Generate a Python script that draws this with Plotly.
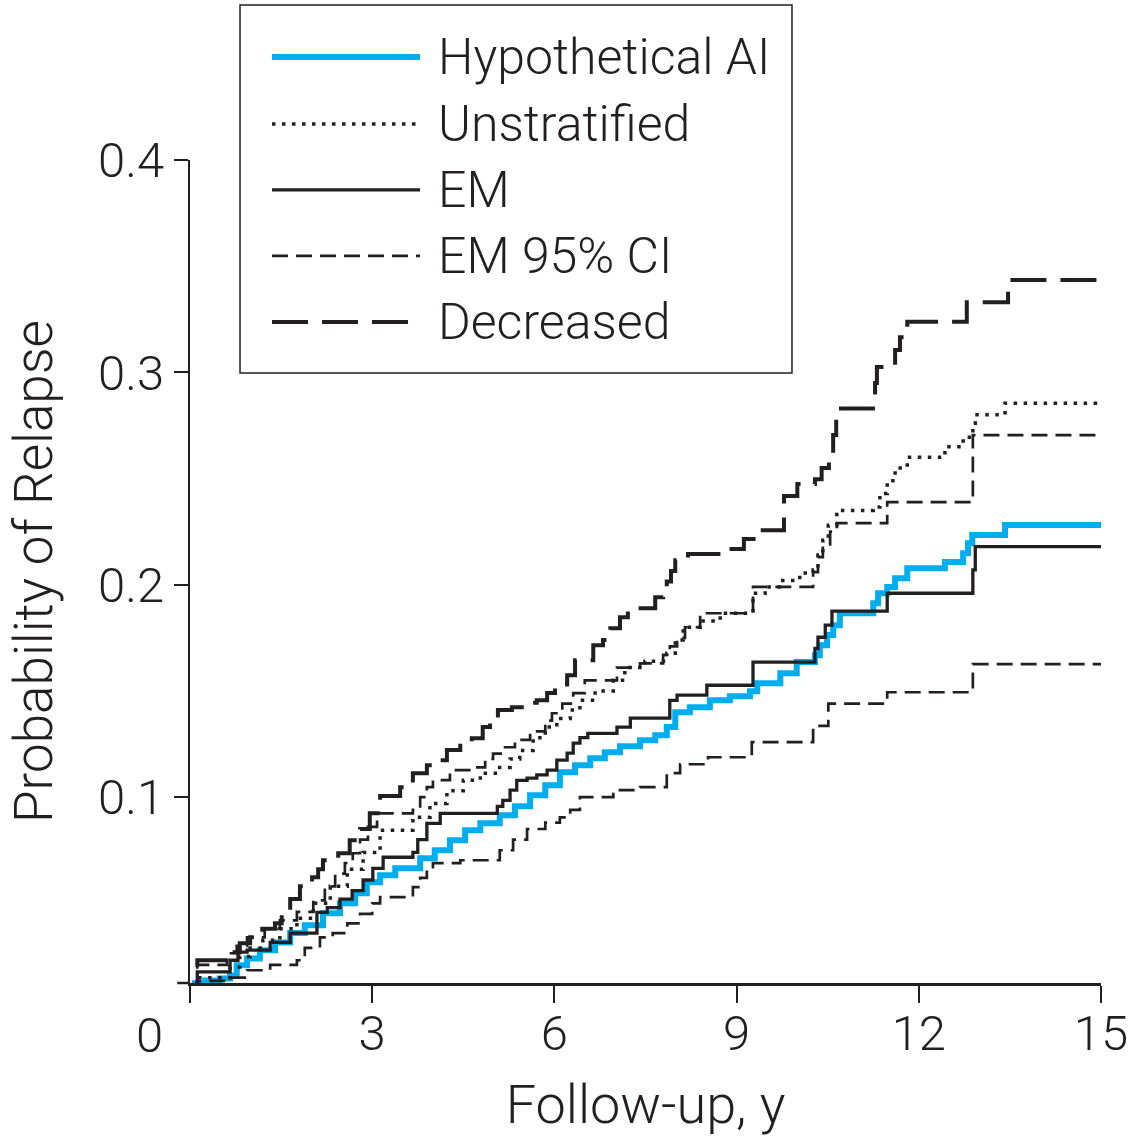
import plotly.graph_objects as go

# ---------------- data (years, cumulative probability of relapse) ----------------
ai_t = [0, 0.08, 0.25, 0.49, 0.66, 0.77, 0.94, 1.15, 1.40, 1.65, 1.89, 2.19, 2.47, 2.72, 2.91,
        3.13, 3.38, 3.79, 4.03, 4.28, 4.53, 4.78, 5.10, 5.35, 5.60, 5.85, 6.09, 6.34, 6.59,
        6.83, 7.08, 7.41, 7.66, 7.85, 7.99, 8.23, 8.56, 8.89, 9.22, 9.34, 9.72, 9.99, 10.29,
        10.37, 10.49, 10.59, 10.70, 11.25, 11.33, 11.48, 11.61, 11.81, 12.43, 12.73, 12.81,
        12.88, 13.42, 15.0]
ai_v = [0, 0.0124, 0.0137, 0.0146, 0.016, 0.0208, 0.024, 0.0279, 0.0316, 0.036, 0.0397, 0.0453,
        0.050, 0.0547, 0.0599, 0.0632, 0.0665, 0.0712, 0.075, 0.0797, 0.0844, 0.0877, 0.0915,
        0.0957, 0.1009, 0.1056, 0.1117, 0.115, 0.1183, 0.1211, 0.124, 0.1268, 0.1291, 0.133,
        0.140, 0.1423, 0.1456, 0.1475, 0.1499, 0.1536, 0.1584, 0.1636, 0.1668, 0.1715, 0.1763,
        0.181, 0.1866, 0.1913, 0.196, 0.1989, 0.2031, 0.2078, 0.2107, 0.2149, 0.2196, 0.2234,
        0.2281, 0.2281]

unstrat_t = [0, 0.12, 0.66, 0.82, 0.99, 1.20, 1.48, 1.76, 2.03, 2.31, 2.59, 2.85, 3.13, 3.67,
             3.95, 4.23, 4.50, 4.78, 5.06, 5.27, 5.43, 5.65, 5.85, 6.04, 6.26, 6.42, 6.67, 6.97,
             7.16, 7.49, 7.85, 7.99, 8.12, 8.40, 8.73, 9.27, 9.47, 9.76, 10.04, 10.26, 10.34,
             10.42, 10.51, 10.65, 11.25, 11.36, 11.48, 11.61, 11.81, 12.43, 12.73, 12.89, 12.93,
             13.42, 15.0]
unstrat_v = [0, 0.015, 0.020, 0.025, 0.029, 0.0326, 0.038, 0.043, 0.050, 0.058, 0.066, 0.074,
             0.0844, 0.0905, 0.097, 0.103, 0.108, 0.1113, 0.114, 0.118, 0.122, 0.128, 0.133,
             0.137, 0.141, 0.1456, 0.150, 0.155, 0.161, 0.164, 0.1678, 0.174, 0.180, 0.183,
             0.1866, 0.196, 0.199, 0.202, 0.2055, 0.207, 0.214, 0.221, 0.228, 0.235, 0.2366,
             0.243, 0.249, 0.255, 0.260, 0.265, 0.2695, 0.276, 0.280, 0.2855, 0.2855]

em_t = [0, 0.12, 0.66, 0.79, 0.94, 1.32, 1.65, 2.09, 2.26, 2.47, 2.67, 2.85, 3.01, 3.18, 3.67,
        3.75, 3.90, 4.12, 5.06, 5.15, 5.27, 5.38, 5.55, 5.71, 5.88, 6.04, 6.21, 6.31, 6.42,
        6.55, 7.03, 7.25, 7.90, 8.02, 8.51, 9.27, 10.29, 10.34, 10.46, 10.57, 11.48, 12.89,
        12.93, 15.0]
em_v = [0, 0.0177, 0.0232, 0.027, 0.028, 0.0316, 0.036, 0.0458, 0.048, 0.052, 0.056, 0.061,
        0.0665, 0.0717, 0.074, 0.080, 0.0877, 0.0924, 0.0957, 0.0985, 0.1033, 0.1079, 0.109,
        0.1105, 0.1127, 0.1174, 0.1207, 0.1254, 0.128, 0.130, 0.133, 0.1372, 0.1456, 0.148,
        0.1527, 0.1636, 0.170, 0.1753, 0.181, 0.1876, 0.196, 0.207, 0.218, 0.218]

ci_hi_t = [0, 0.12, 0.61, 0.77, 0.94, 1.23, 1.48, 1.76, 2.03, 2.22, 2.39, 2.55, 2.68, 2.80,
           2.93, 3.08, 3.67, 3.79, 3.90, 4.00, 4.28, 4.73, 4.86, 4.99, 5.15, 5.35, 5.60, 5.85,
           5.96, 6.13, 6.31, 6.50, 7.03, 7.41, 7.79, 7.90, 8.02, 8.15, 8.40, 9.27, 10.26, 10.34,
           10.42, 10.54, 10.65, 11.48, 12.89, 15.0]
ci_hi_v = [0, 0.021, 0.0265, 0.030, 0.034, 0.038, 0.042, 0.046, 0.0514, 0.058, 0.064, 0.069,
           0.0736, 0.080, 0.086, 0.0924, 0.094, 0.100, 0.1047, 0.108, 0.1127, 0.114, 0.118,
           0.1205, 0.1235, 0.127, 0.131, 0.136, 0.1395, 0.144, 0.149, 0.155, 0.161, 0.163,
           0.167, 0.171, 0.175, 0.180, 0.1866, 0.199, 0.206, 0.213, 0.219, 0.225, 0.229,
           0.2389, 0.2705, 0.2705]

ci_lo_t = [0, 0.12, 0.66, 0.94, 1.32, 1.76, 1.89, 2.14, 2.35, 2.59, 2.80, 3.00, 3.13, 3.67,
           3.79, 3.90, 4.00, 4.45, 5.10, 5.32, 5.55, 5.85, 6.09, 6.26, 6.42, 6.97, 7.41, 7.85,
           8.07, 8.53, 9.25, 10.26, 10.51, 11.48, 12.89, 15.0]
ci_lo_v = [0, 0.0135, 0.015, 0.0185, 0.021, 0.0232, 0.029, 0.034, 0.036, 0.0406, 0.045, 0.050,
           0.0529, 0.0576, 0.062, 0.067, 0.0689, 0.0703, 0.075, 0.080, 0.085, 0.088, 0.0905,
           0.094, 0.100, 0.1033, 0.1047, 0.1113, 0.1155, 0.1188, 0.1259, 0.1336, 0.144, 0.1494,
           0.1626, 0.1626]

dec_t = [0, 0.12, 0.66, 0.82, 0.99, 1.19, 1.40, 1.51, 1.65, 1.81, 2.01, 2.11, 2.19, 2.44, 2.63,
         2.80, 2.96, 3.13, 3.46, 3.67, 3.90, 4.12, 4.23, 4.45, 4.64, 4.82, 4.94, 5.07, 5.30,
         5.52, 5.71, 5.88, 6.01, 6.21, 6.34, 6.64, 6.80, 6.92, 7.08, 7.21, 7.66, 7.79, 7.85,
         7.92, 7.99, 8.20, 8.84, 9.12, 9.43, 9.78, 10.00, 10.29, 10.40, 10.52, 10.59, 10.64,
         11.28, 11.31, 11.61, 11.69, 11.81, 12.79, 13.47, 15.0]
dec_v = [0, 0.0232, 0.027, 0.0312, 0.034, 0.038, 0.0406, 0.046, 0.052, 0.058, 0.0623, 0.066,
         0.0703, 0.0736, 0.0797, 0.085, 0.0924, 0.1005, 0.1047, 0.1113, 0.115, 0.1174, 0.1222,
         0.1255, 0.1277, 0.133, 0.137, 0.141, 0.1423, 0.1445, 0.1456, 0.149, 0.153, 0.1574,
         0.1645, 0.1715, 0.174, 0.1795, 0.1847, 0.189, 0.1941, 0.1965, 0.2016, 0.2065, 0.2116,
         0.2145, 0.2168, 0.2215, 0.2257, 0.2418, 0.2474, 0.2497, 0.255, 0.261, 0.2705, 0.283,
         0.295, 0.3025, 0.3105, 0.3166, 0.3239, 0.333, 0.3435, 0.3435]

x_ticks = [0, 3, 6, 9, 12, 15]
y_ticks = [0.1, 0.2, 0.3, 0.4]
legend_labels = ["Hypothetical AI", "Unstratified", "EM", "EM 95% CI", "Decreased"]

# ---------------- styles ----------------
BLACK = "#231f20"
BLUE = "#00aeef"
FONT = "Roboto, Liberation Sans, Arial, sans-serif"
FW = 300

styles = {
    "Hypothetical AI": dict(color=BLUE, width=6, dash="solid"),
    "Unstratified": dict(color=BLACK, width=3.5, dash="3.5px,6.5px"),
    "EM": dict(color=BLACK, width=3.3, dash="solid"),
    "EM 95% CI": dict(color=BLACK, width=2.7, dash="16px,8px"),
    "Decreased": dict(color=BLACK, width=4, dash="36px,14px"),
}

fig = go.Figure()
series = [
    ("Hypothetical AI", ai_t, ai_v),
    ("EM 95% CI", ci_hi_t, ci_hi_v),
    ("EM 95% CI", ci_lo_t, ci_lo_v),
    ("Unstratified", unstrat_t, unstrat_v),
    ("Decreased", dec_t, dec_v),
    ("EM", em_t, em_v),
]
for name, t, v in series:
    fig.add_trace(go.Scatter(x=t, y=v, mode="lines", name=name, line=styles[name],
                             line_shape="hv", showlegend=False, hoverinfo="skip"))

# ---------------- custom legend (long line samples as in the original) ----------------
shapes = []
annotations = []
box_x0, box_x1, box_y0, box_y1 = 0.0549, 0.6608, 0.7412, 1.1883
shapes.append(dict(type="rect", xref="paper", yref="paper", x0=box_x0, x1=box_x1,
                   y0=box_y0, y1=box_y1, line=dict(color=BLACK, width=1.5),
                   fillcolor="white", layer="above"))
row_y = [1.1252, 1.0438, 0.9636, 0.8834, 0.8032]
for lab, yy in zip(legend_labels, row_y):
    st = styles[lab]
    shapes.append(dict(type="line", xref="paper", yref="paper", x0=0.090, x1=0.2525,
                       y0=yy, y1=yy, line=dict(color=st["color"], width=st["width"],
                                               dash=st["dash"]), layer="above"))
    annotations.append(dict(xref="paper", yref="paper", x=0.270, y=yy, text=lab,
                            showarrow=False, xanchor="left", yanchor="middle",
                            font=dict(family=FONT, size=50, color=BLACK, weight=FW)))

# x-axis line extends slightly left of the y axis
shapes.append(dict(type="line", xref="paper", yref="paper", x0=-0.014, x1=0.0, y0=0, y1=0,
                   line=dict(color=BLACK, width=2.5), layer="above"))

# origin "0" label, placed left of the axis corner as in the original
annotations.append(dict(xref="paper", yref="paper", x=-0.044, y=0, yshift=-52, text="0",
                        showarrow=False, xanchor="center", yanchor="middle",
                        font=dict(family=FONT, size=49, color=BLACK, weight=FW)))

fig.update_layout(
    width=1144, height=1138,
    margin=dict(l=190, r=43, t=160, b=155),
    paper_bgcolor="white", plot_bgcolor="white",
    font=dict(family=FONT, size=49, color=BLACK, weight=FW),
    shapes=shapes, annotations=annotations,
    xaxis=dict(range=[0, 15], tickvals=x_ticks, automargin=False,
               ticktext=["" if v == 0 else str(v) for v in x_ticks],
               showgrid=False, zeroline=False, showline=True, linecolor=BLACK, linewidth=2.5,
               ticks="outside", ticklen=17, tickwidth=2, tickcolor=BLACK,
               ticklabelstandoff=-12,
               tickfont=dict(family=FONT, size=49, color=BLACK, weight=FW),
               title=dict(text="Follow-up, y", standoff=25,
                          font=dict(family=FONT, size=54, color=BLACK, weight=FW))),
    yaxis=dict(range=[0.0125, 0.4], tickvals=y_ticks, automargin=False,
               ticktext=[f"{v:.1f}" for v in y_ticks],
               showgrid=False, zeroline=False, showline=True, linecolor=BLACK, linewidth=2,
               ticks="outside", ticklen=14, tickwidth=2, tickcolor=BLACK,
               ticklabelstandoff=0,
               tickfont=dict(family=FONT, size=49, color=BLACK, weight=FW),
               title=dict(text="Probability of Relapse", standoff=29,
                          font=dict(family=FONT, size=53, color=BLACK, weight=FW))),
)

fig.write_html("out.html", config={"displayModeBar": False},
               post_script="document.body.style.margin='0';")
